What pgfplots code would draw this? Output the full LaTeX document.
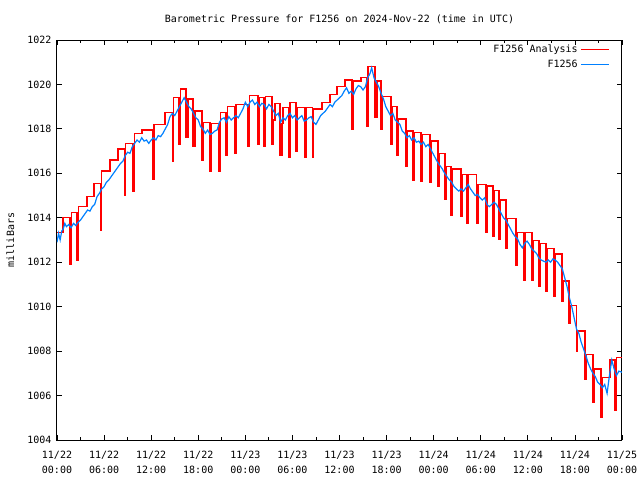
\documentclass[border=0pt]{standalone}
\usepackage{pgfplots}
\pgfplotsset{compat=1.18}
\usepackage{fontspec}
\setmainfont{DejaVu Sans Mono}
\definecolor{obsblue}{RGB}{0,128,255}
\definecolor{anared}{RGB}{255,0,0}
\begin{document}
\fontsize{7.5}{9}\selectfont
\begin{tikzpicture}
\path[use as bounding box] (0pt,0pt) rectangle (480pt,360pt);
\begin{axis}[
  at={(42.75pt,30pt)}, anchor=south west,
  width=423.75pt, height=300pt, scale only axis,
  xmin=0, xmax=72, ymin=1004, ymax=1022,
  xtick={0,6,...,72}, minor xtick={3,9,...,69},
  ytick={1004,1006,...,1022},
  xticklabels={{11/22\\00:00},{11/22\\06:00},{11/22\\12:00},{11/22\\18:00},{11/23\\00:00},{11/23\\06:00},{11/23\\12:00},{11/23\\18:00},{11/24\\00:00},{11/24\\06:00},{11/24\\12:00},{11/24\\18:00},{11/25\\00:00}},
  xticklabel style={align=center, font=\fontsize{7.5}{11.2}\selectfont, yshift=-5.5pt},
  yticklabel style={font=\fontsize{7.5}{9}\selectfont, xshift=-1.5pt},
  /pgf/number format/assume math mode=true,
  /pgf/number format/1000 sep={},
  tick align=inside, tick pos=both,
  major tick length=3.75pt, minor tick length=2pt,
  tick style={black, line width=0.6pt},
  axis line style={line width=0.75pt},
  title={Barometric Pressure for F1256 on 2024-Nov-22 (time in UTC)},
  title style={at={(0.5,1)}, anchor=base, yshift=7.25pt, font=\fontsize{7.5}{9}\selectfont},
  ylabel={milliBars},
  ylabel style={at={(axis description cs:0,0.5)}, anchor=center, yshift=35pt, font=\fontsize{7.5}{9}\selectfont},
  legend style={at={(axis description cs:1,1)}, anchor=north east, xshift=-6pt, yshift=0.5pt, draw=none, fill=none, legend cell align=right, row sep=0.5pt, font=\fontsize{7.5}{9}\selectfont},
  legend plot pos=right,
  legend image code/.code={\draw[#1] (0pt,0pt) -- (21pt,0pt);},
]
\addplot[anared, line width=1pt, const plot mark left, no marks] coordinates {
(0,1013.35) (0.76,1014.0) (1.66,1011.9) (1.85,1014.25) (2.55,1012.1) (2.7,1014.5)
(3.82,1014.95) (4.72,1015.55) (5.61,1013.45) (5.71,1016.1) (6.75,1016.6) (7.77,1017.1)
(8.67,1015.0) (8.77,1017.35) (9.69,1015.2) (9.85,1017.8) (10.83,1017.95) (12.2,1015.75)
(12.35,1018.2) (13.76,1018.75) (14.78,1016.55) (14.88,1019.4) (15.55,1017.3) (15.75,1019.8)
(16.44,1017.6) (16.69,1019.35) (17.33,1017.2) (17.6,1018.8) (18.48,1016.6) (18.7,1018.3)
(19.5,1016.1) (19.7,1018.25) (20.64,1016.1) (20.85,1018.75) (21.54,1016.8) (21.75,1019.0)
(22.68,1016.9) (22.8,1019.1) (24.34,1017.2) (24.5,1019.5) (25.62,1017.3) (25.75,1019.4)
(26.38,1017.2) (26.55,1019.45) (27.4,1017.3) (27.59,1018.4) (27.78,1019.15) (28.42,1016.8)
(28.67,1018.25) (28.8,1018.95) (29.57,1016.7) (29.69,1019.2) (30.46,1017.0) (30.65,1018.95)
(31.6,1016.7) (31.75,1018.95) (32.56,1016.7) (32.72,1018.9) (33.77,1019.2) (34.79,1019.55)
(35.68,1019.9) (36.7,1020.2) (37.59,1018.0) (37.7,1020.15) (38.74,1020.3) (39.5,1018.1)
(39.62,1020.8) (40.52,1018.5) (40.8,1020.15) (41.29,1018.0) (41.5,1019.45) (42.56,1017.3)
(42.69,1019.0) (43.33,1016.8) (43.46,1018.45) (44.48,1016.3) (44.65,1017.9) (45.37,1015.7)
(45.5,1017.85) (46.39,1015.65) (46.55,1017.75) (47.53,1015.6) (47.7,1017.45) (48.55,1015.4)
(48.68,1016.9) (49.45,1014.85) (49.6,1016.3) (50.21,1014.1) (50.38,1016.2) (51.48,1014.05)
(51.6,1015.95) (52.25,1013.75) (52.4,1015.95) (53.5,1013.75) (53.65,1015.5) (54.65,1013.33)
(54.78,1015.43) (55.56,1013.18) (55.68,1015.22) (56.33,1013.03) (56.5,1014.8) (57.22,1012.62)
(57.4,1013.97) (58.5,1011.87) (58.65,1013.35) (59.5,1011.2) (59.62,1013.35) (60.53,1011.2)
(60.65,1012.97) (61.43,1010.9) (61.55,1012.85) (62.32,1010.67) (62.48,1012.62) (63.34,1010.45)
(63.5,1012.37) (64.36,1010.22) (64.55,1011.15) (65.25,1009.25) (65.38,1010.05) (66.2,1008.0)
(66.33,1008.9) (67.29,1006.75) (67.5,1007.85) (68.31,1005.7) (68.48,1007.2) (69.33,1005.0)
(69.5,1006.8) (70.47,1007.6) (71.1,1005.35) (71.3,1007.7) (72,1007.7)
};
\addlegendentry{F1256 Analysis}
\addplot[obsblue, line width=0.9pt, no marks] coordinates {
(0.0,1012.9) (0.2,1013.3) (0.4,1013.0) (0.6,1013.4) (0.8,1013.5) (1.0,1013.75) (1.2,1013.6)
(1.5,1013.7) (1.8,1013.55) (2.1,1013.75) (2.4,1013.65) (2.7,1013.8) (3.0,1013.9) (3.3,1014.05)
(3.6,1014.2) (3.9,1014.35) (4.2,1014.3) (4.5,1014.5) (4.8,1014.6) (5.1,1014.95) (5.4,1015.1)
(5.7,1015.3) (6.0,1015.4) (6.3,1015.6) (6.6,1015.7) (6.9,1015.85) (7.2,1016.0) (7.5,1016.15)
(7.8,1016.3) (8.1,1016.45) (8.4,1016.55) (8.7,1016.8) (9.0,1016.95) (9.3,1016.9) (9.6,1017.2)
(9.9,1017.35) (10.2,1017.5) (10.5,1017.4) (10.8,1017.6) (11.1,1017.45) (11.4,1017.5) (11.7,1017.35)
(12.0,1017.5) (12.3,1017.6) (12.6,1017.5) (12.9,1017.7) (13.2,1017.65) (13.5,1017.8) (13.8,1018.0)
(14.1,1018.2) (14.4,1018.55) (14.7,1018.7) (15.0,1018.6) (15.3,1018.8) (15.6,1019.0) (15.9,1019.2)
(16.2,1019.4) (16.5,1019.2) (16.8,1019.0) (17.1,1018.9) (17.4,1018.7) (17.7,1018.5) (18.0,1018.4)
(18.3,1018.1) (18.6,1018.0) (18.9,1017.8) (19.2,1017.95) (19.5,1017.75) (19.8,1017.8) (20.1,1017.9)
(20.4,1017.95) (20.7,1018.3) (21.0,1018.45) (21.3,1018.5) (21.6,1018.3) (21.9,1018.55) (22.2,1018.4)
(22.5,1018.5) (22.8,1018.6) (23.1,1018.5) (23.4,1018.7) (23.7,1018.9) (24.0,1019.2) (24.3,1019.0)
(24.6,1019.2) (24.9,1019.3) (25.2,1019.1) (25.5,1019.2) (25.8,1019.0) (26.1,1019.15) (26.4,1019.1)
(26.7,1018.9) (27.0,1019.1) (27.3,1019.0) (27.6,1018.8) (27.9,1018.6) (28.2,1018.7) (28.5,1018.3)
(28.8,1018.5) (29.1,1018.4) (29.4,1018.6) (29.7,1018.7) (30.0,1018.5) (30.3,1018.6) (30.6,1018.4)
(30.9,1018.5) (31.2,1018.6) (31.5,1018.35) (31.8,1018.4) (32.1,1018.5) (32.4,1018.55) (32.7,1018.3)
(33.0,1018.2) (33.3,1018.4) (33.6,1018.6) (33.9,1018.7) (34.2,1018.8) (34.5,1018.95) (34.8,1019.1)
(35.1,1019.0) (35.4,1019.2) (35.7,1019.3) (36.0,1019.4) (36.3,1019.5) (36.6,1019.7) (36.9,1019.85)
(37.2,1019.6) (37.5,1019.7) (37.8,1019.55) (38.1,1019.8) (38.4,1019.95) (38.7,1019.9) (39.0,1019.75)
(39.3,1019.9) (39.6,1020.3) (39.9,1020.5) (40.1,1020.75) (40.4,1020.3) (40.7,1020.1) (41.0,1019.9)
(41.3,1019.6) (41.6,1019.35) (41.9,1019.0) (42.2,1018.8) (42.5,1018.6) (42.8,1018.7) (43.1,1018.4)
(43.4,1018.3) (43.7,1018.2) (44.0,1017.9) (44.3,1017.8) (44.6,1017.6) (44.9,1017.7) (45.2,1017.5)
(45.5,1017.6) (45.8,1017.4) (46.1,1017.45) (46.4,1017.3) (46.7,1017.4) (47.0,1017.2) (47.3,1017.3)
(47.6,1017.1) (47.9,1016.9) (48.2,1016.7) (48.5,1016.5) (48.8,1016.35) (49.1,1016.2) (49.4,1016.0)
(49.7,1015.85) (50.0,1015.7) (50.3,1015.6) (50.6,1015.4) (50.9,1015.3) (51.2,1015.2) (51.5,1015.3)
(51.8,1015.2) (52.1,1015.35) (52.4,1015.5) (52.7,1015.3) (53.0,1015.15) (53.3,1015.0) (53.6,1015.05)
(53.9,1014.9) (54.2,1014.8) (54.5,1014.9) (54.8,1014.6) (55.1,1014.5) (55.4,1014.6) (55.7,1014.7)
(56.0,1014.6) (56.3,1014.4) (56.6,1014.2) (56.9,1014.0) (57.2,1013.9) (57.5,1013.7) (57.8,1013.5)
(58.1,1013.3) (58.4,1013.15) (58.7,1013.05) (59.0,1012.8) (59.3,1012.65) (59.6,1012.85) (59.9,1012.95)
(60.2,1012.8) (60.5,1012.6) (60.8,1012.5) (61.1,1012.4) (61.4,1012.2) (61.7,1012.1) (62.0,1012.05)
(62.3,1012.0) (62.6,1012.1) (62.9,1012.0) (63.2,1012.15) (63.5,1012.1) (63.8,1012.0) (64.1,1011.85)
(64.4,1011.7) (64.7,1011.3) (65.0,1010.9) (65.3,1010.4) (65.6,1010.0) (65.9,1009.5) (66.2,1009.0)
(66.5,1008.8) (66.8,1008.4) (67.1,1008.1) (67.4,1007.8) (67.7,1007.45) (68.0,1007.2) (68.3,1007.0)
(68.6,1006.85) (68.9,1006.6) (69.2,1006.5) (69.5,1006.35) (69.8,1006.5) (70.1,1006.1) (70.4,1006.9)
(70.7,1007.6) (71.0,1007.2) (71.3,1006.9) (71.6,1007.1) (72.0,1007.05)
};
\addlegendentry{F1256}
\end{axis}
\end{tikzpicture}
\end{document}
